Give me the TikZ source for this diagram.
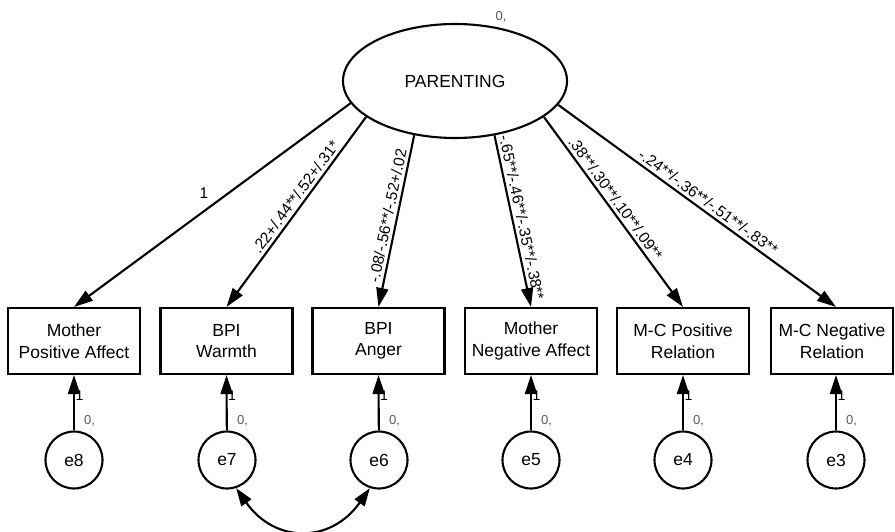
\documentclass[tikz,border=0pt]{standalone}
\usepackage{fontspec}
\setmainfont{Liberation Sans}
\usetikzlibrary{positioning,arrows.meta,shapes.geometric}

\begin{document}
\begin{tikzpicture}[x=1pt, y=-1pt, auto,
 lat/.style = {draw, ellipse, line width=2.1pt, minimum width=224pt, minimum height=114pt, inner sep=0pt, font=\fontsize{17.5}{21}\selectfont},
 obs/.style = {draw, line width=2.1pt, minimum width=132pt, minimum height=66pt, inner sep=0pt, align=center, font=\fontsize{17.5}{21.5}\selectfont},
 err/.style = {draw, circle, line width=2.1pt, minimum size=57pt, inner sep=0pt, font=\fontsize{17.5}{21}\selectfont},
 load/.style = {line width=2.1pt, -{Triangle[length=19pt,width=12pt]}},
 coef/.style = {sloped, above, inner sep=3pt, font=\fontsize{15.5}{15}\selectfont},
 one/.style = {right, inner sep=0.5pt, font=\fontsize{14}{14}\selectfont},
 var/.style = {inner sep=0pt, text=black!65, font=\fontsize{13}{13}\selectfont},
]
 \useasboundingbox (0,0) rectangle (895,532);
 \node[lat] (par) at (455,81) {PARENTING};
 \node[var] (vp) at (501,17) {0,};

 \node[obs] (mpa) at (74,341) {Mother\\Positive Affect};
 \node[obs] (bw) at (226.5,341) {BPI\\Warmth};
 \node[obs] (ba) at (378.5,341) {BPI\\Anger};
 \node[obs] (mna) at (531,341) {Mother\\Negative Affect};
 \node[obs] (mcp) at (683,341) {M-C Positive\\Relation};
 \node[obs, minimum width=122pt] (mcn) at (832,341) {M-C Negative\\Relation};

 \node[err] (e8) at (74,460) {e8};
 \node[err] (e7) at (227,460) {e7};
 \node[err] (e6) at (379,460) {e6};
 \node[err] (e5) at (531,460) {e5};
 \node[err] (e4) at (683,460) {e4};
 \node[err] (e3) at (836,460) {e3};

 \draw [load] (par.192) to node[pos=.53, above=8pt, font=\fontsize{15.5}{15}\selectfont] {1} (mpa.north);
 \draw [load] (par.202) to node[coef, pos=.45] {.22+/.44**/.52+/.31*} (bw.north);
 \draw [load] (par.233) to node[coef, pos=.48] {-.08/-.56**/-.52+/.02} (ba.north);
 \draw [load] (par.306) to node[coef, pos=.49] {-.65**/-.46**/-.35**/-.38**} (mna.north);
 \draw [load] (par.338) to node[coef, pos=.46] {.38**/.30**/.10**/.09**} (mcp.north);
 \draw [load] (par.347) to node[coef, pos=.52] {-.24**/-.36**/-.51**/-.83**} (e3 |- mcn.north);

 \draw [load] (e8) to node[one, pos=.62] {1} (mpa.south);
 \draw [load] (e7) to node[one, pos=.62] {1} (bw.south);
 \draw [load] (e6) to node[one, pos=.62] {1} (ba.south);
 \draw [load] (e5) to node[one, pos=.62] {1} (mna.south);
 \draw [load] (e4) to node[one, pos=.62] {1} (mcp.south);
 \draw [load] (e3) to node[one, pos=.62] {1} (e3 |- mcn.south);

 \node[var, above right=4pt and 10pt of e8.north] (v8) {0,};
 \node[var, above right=4pt and 10pt of e7.north] (v7) {0,};
 \node[var, above right=4pt and 10pt of e6.north] (v6) {0,};
 \node[var, above right=4pt and 10pt of e5.north] (v5) {0,};
 \node[var, above right=4pt and 10pt of e4.north] (v4) {0,};
 \node[var, above right=4pt and 10pt of e3.north] (v3) {0,};

 \draw [line width=2.1pt, {Triangle[length=18pt,width=12pt]}-{Triangle[length=18pt,width=12pt]}] (e7.288) to [out=-55, in=235, looseness=1.3] (e6.252);
\end{tikzpicture}
\end{document}
